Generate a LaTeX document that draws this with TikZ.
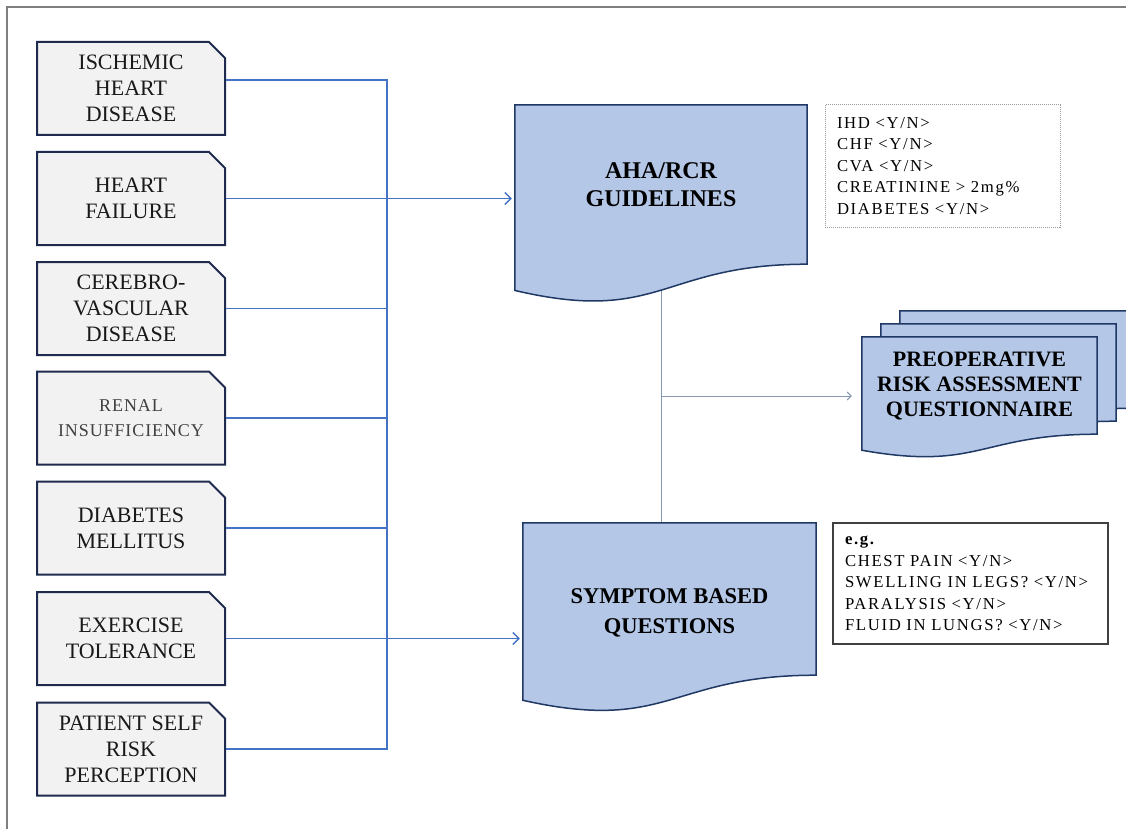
\documentclass[tikz,border=0pt]{standalone}
\usepackage{fontspec}
\setmainfont{Liberation Serif}
\usetikzlibrary{shapes.misc,calc,backgrounds,arrows.meta}

\definecolor{boxgray}{HTML}{F2F2F2}
\definecolor{boxedge}{HTML}{1F2B4E}
\definecolor{docblue}{HTML}{B4C7E7}
\definecolor{docedge}{HTML}{203864}
\definecolor{busblue}{HTML}{4472C4}
\definecolor{linkgray}{HTML}{8496B0}
\definecolor{framegray}{HTML}{7F7F7F}
\definecolor{infogray}{HTML}{9A9A9A}
\definecolor{infodark}{HTML}{404040}

\tikzset{
  factorbox/.style={chamfered rectangle, chamfered rectangle corners=north east,
    chamfered rectangle xsep=8pt, chamfered rectangle ysep=8pt,
    draw=boxedge, line width=2pt, fill=boxgray, minimum width=188pt,
    minimum height=93pt, inner sep=0pt, align=center, text=black!90,
    font=\fontsize{22}{26}\selectfont},
  docbox/.style={rectangle, inner sep=0pt, align=center,
    font=\bfseries\fontsize{24}{28}\selectfont},
  doctext/.style={inner sep=0pt, align=center,
    font=\bfseries\fontsize{22.5}{30}\selectfont},
  preopsize/.style={minimum width=235pt, minimum height=97pt},
  docline/.style={draw=docedge, line width=1.5pt, fill=docblue},
  infobox/.style={rectangle, inner xsep=12pt, inner ysep=0pt, align=left,
    line width=1pt, font=\fontsize{16.7}{21.5}\selectfont\addfontfeature{LetterSpace=10}},
  busline/.style={draw=busblue, line width=1.3pt},
  busarrow/.style={busline, -{Straight Barb[length=6pt,width=12pt]}, shorten >=3pt},
  linkline/.style={draw=linkgray, line width=1pt},
  linkarrow/.style={linkline, -{Straight Barb[length=4pt,width=8pt]}, shorten >=10pt},
  frameline/.style={draw=framegray, line width=2pt}
}

% document outline with a wavy lower edge round a node
\newcommand{\docshape}[1]{%
  \draw[docline] (#1.north west) -- (#1.north east) -- (#1.south east)
    .. controls (#1.south) and ($(#1.north)!1.38!(#1.south)$)
    .. ($(#1.north west)!1.1646!(#1.south west)$) -- cycle;}

\begin{document}
\begin{tikzpicture}[x=1pt, y=-1pt]
    \useasboundingbox (0,0) rectangle (1126,829);
    % outer frame
    \draw[frameline] (7,829) -- (7,7) -- (1126,7);

    % risk factors
    \node[factorbox] (ihd) at (131, 88.5) {ISCHEMIC\\HEART\\DISEASE};
    \node[factorbox] (hf) at (131, 198.5) {HEART\\FAILURE};
    \node[factorbox] (cvd) at (131, 308.5) {CEREBRO-\\VASCULAR\\DISEASE};
    \node[factorbox, text=black!75,
      font=\fontsize{18}{25}\selectfont\addfontfeature{LetterSpace=5}] (ri) at (131, 418) {RENAL\\INSUFFICIENCY};
    \node[factorbox] (dm) at (131, 528) {DIABETES\\MELLITUS};
    \node[factorbox] (et) at (131, 638.5) {EXERCISE\\TOLERANCE};
    \node[factorbox] (psrp) at (131, 749) {PATIENT SELF\\RISK\\PERCEPTION};

    % documents
    \node[docbox, minimum width=292pt, minimum height=159pt] (aha) at (661, 184.5) {AHA/RCR\\GUIDELINES};
    \node[docbox, minimum width=293pt, minimum height=152pt] (symp) at (669.5, 599) {};
    \node[doctext] (symptxt) at ([yshift=-14pt]symp.center) {SYMPTOM BASED\\QUESTIONS};
    \node[docbox, preopsize, font=\bfseries\fontsize{22}{25}\selectfont] (preop) at (979.5, 385.5)
      {PREOPERATIVE\\RISK ASSESSMENT\\QUESTIONNAIRE};
    \node[docbox, preopsize] (preopB) at ([shift={(19pt,13pt)}]preop.center) {};
    \node[docbox, preopsize] (preopC) at ([shift={(38pt,26pt)}]preop.center) {};

    % criteria boxes
    \node[infobox, draw=infogray, densely dotted, minimum height=122pt, text width=211pt] (ahainfo) at (942.5, 166)
      {IHD <Y/N>\\CHF <Y/N>\\CVA <Y/N>\\CREATININE > 2mg\%\\DIABETES <Y/N>};
    \node[infobox, draw=infodark, line width=1.2pt, minimum height=121pt, text width=251pt] (sympinfo) at (970.5, 583.5)
      {\textbf{e.g.}\\CHEST PAIN <Y/N>\\SWELLING IN LEGS? <Y/N>\\PARALYSIS <Y/N>\\FLUID IN LUNGS? <Y/N>};

    % collecting line
    \coordinate (bus) at (387, 80);
    \draw[busline] ([yshift=8.5pt]ihd.east) -| (bus |- psrp.east) -- (psrp.east);
    \foreach \f in {cvd, ri, dm} \draw[busline] (\f.east) -- (\f.east -| bus);
    \draw[busarrow] (hf.east) -- (hf.east -| aha.west);
    \draw[busarrow] (et.east) -- (et.east -| symp.west);

    \begin{scope}[on background layer]
        \draw[linkline] (aha.south) -- (aha.south |- symp.north);
        \coordinate (qin) at ([yshift=-10.5pt]preop.west);
        \draw[linkarrow] (aha.south |- qin) -- (qin);
        \foreach \d in {preopC, preopB, preop, aha, symp} \docshape{\d};
    \end{scope}
\end{tikzpicture}
\end{document}
